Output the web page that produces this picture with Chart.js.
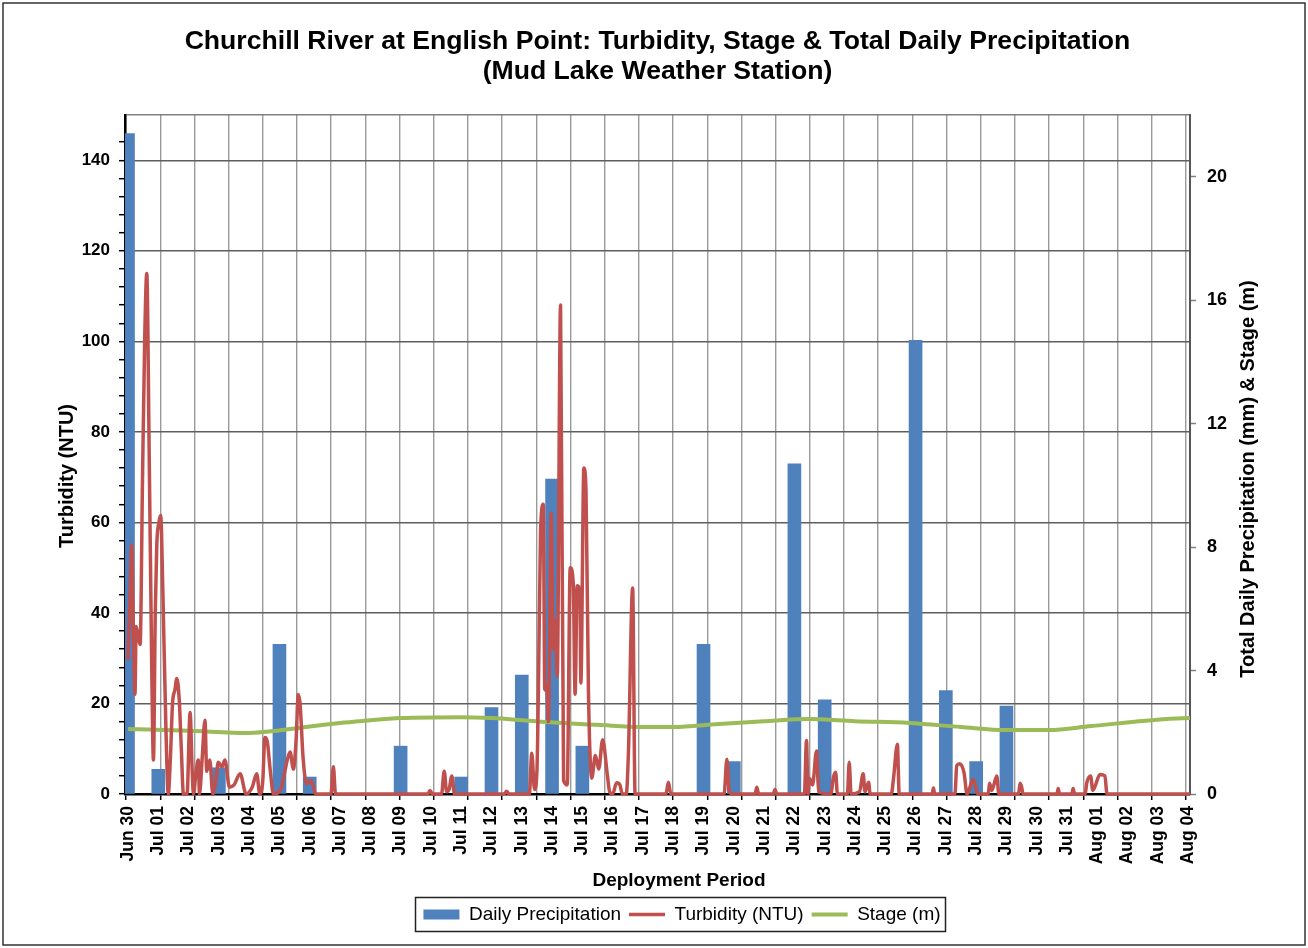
<!DOCTYPE html>
<html>
<head>
<meta charset="utf-8">
<script src="https://cdn.jsdelivr.net/npm/chart.js@4.4.1/dist/chart.umd.min.js"></script>
<style>
html,body{margin:0;padding:0;background:#fff;}
canvas{display:block;}
</style>
</head>
<body>
<canvas id="c" width="1308" height="948"></canvas>
<script>
// ---- tick labels (one per day, Jun 30 = day 0) ----
const dayLabels = ['Jun 30','Jul 01','Jul 02','Jul 03','Jul 04','Jul 05','Jul 06','Jul 07','Jul 08','Jul 09',
  'Jul 10','Jul 11','Jul 12','Jul 13','Jul 14','Jul 15','Jul 16','Jul 17','Jul 18','Jul 19','Jul 20',
  'Jul 21','Jul 22','Jul 23','Jul 24','Jul 25','Jul 26','Jul 27','Jul 28','Jul 29','Jul 30','Jul 31',
  'Aug 01','Aug 02','Aug 03','Aug 04'];

// ---- Daily precipitation (mm), right axis ----
const precipDays = [0, 1, 3, 5, 6, 9, 11, 12, 13, 14, 15, 19, 20, 22, 23, 26, 27, 28, 29];
const precipMM   = [21.4, 0.8, 0.85, 4.85, 0.55, 1.55, 0.55, 2.8, 3.85, 10.2, 1.55, 4.85, 1.05, 10.7, 3.05, 14.7, 3.35, 1.05, 2.85];

// ---- Turbidity (NTU), left axis; time in days since Jun 30 ----
const turbDaysEarly = [0, 0.06, 0.12, 0.18, 0.23, 0.27, 0.33, 0.40, 0.48, 0.55, 0.62, 0.70, 0.78, 0.84, 0.90, 0.95, 1.02, 1.08, 1.15, 1.25,
  1.33, 1.40, 1.47, 1.55, 1.61, 1.69, 1.76, 1.83, 1.95, 2.05, 2.12, 2.16, 2.25, 2.32, 2.36, 2.45, 2.54, 2.60, 2.70, 2.80,
  2.90, 2.98, 3.10, 3.20, 3.35, 3.50, 3.70, 3.90, 4.10, 4.25, 4.35, 4.45, 4.52, 4.60, 4.70, 4.80, 5.02, 5.15, 5.24, 5.35,
  5.46, 5.55, 5.62, 5.68, 5.78, 5.90, 6.05, 6.20, 6.70, 6.78, 6.85];
const turbNTUEarly  = [30, 42, 55, 35, 22, 37, 35, 33, 70, 100, 115, 75, 30, 7.5, 40, 55, 60, 61.5, 45, 15,
  0, 8, 20, 23, 25.5, 21, 10, 0, 0, 18, 5, 0, 5, 7.5, 0, 8, 16.3, 5, 7.5, 0,
  3, 7, 6, 7.5, 1.5, 2, 4.5, 0, 1.5, 4.5, 0, 3, 12.5, 11.5, 5, 0, 0.7, 4, 7, 9.3,
  5.5, 12, 22, 20, 8, 2.2, 3, 0, 0, 6, 0];

const turbDaysMid = [9.90, 9.97, 10.05, 10.35, 10.44, 10.52, 10.60, 10.69, 10.78, 12.42, 12.50, 12.58, 13.25, 13.33, 13.42, 13.50, 13.55, 13.62, 13.71, 13.76,
  13.82, 13.88, 13.97, 14.04, 14.10, 14.17, 14.28, 14.38, 14.50, 14.60, 14.70, 14.76, 14.83, 14.92, 14.95, 15.05, 15.12, 15.20, 15.31, 15.43,
  15.54, 15.67, 15.82, 15.90, 16.00, 16.13, 16.24, 16.32, 16.45, 16.52, 16.66, 16.74];
const turbNTUMid  = [0, 0.8, 0, 0, 5, 0.5, 1, 4, 0, 0, 0.6, 0, 0, 9, 1, 5, 23.5, 58, 64, 23,
  24, 16, 62, 32, 38.5, 26, 108, 3, 2, 50, 46.5, 22, 46, 44.5, 24.5, 72, 67, 23, 3.5, 8.5,
  5.5, 12, 4.5, 0.5, 0, 2.5, 2, 0, 0, 9, 45.5, 0];

const turbDaysLate = [17.76, 17.84, 17.92, 19.68, 19.77, 19.85, 19.95, 20.70, 20.76, 20.82, 21.30, 21.36, 21.42, 22.33, 22.40, 22.45, 22.50, 22.60, 22.73, 22.80,
  23.20, 23.29, 23.36, 23.42, 23.75, 23.81, 23.87, 24.15, 24.27, 24.33, 24.45, 24.50, 25.20, 25.27, 25.40, 25.46, 26.55, 26.59, 26.63, 27.30,
  27.36, 27.46, 27.60, 27.70, 27.90, 27.97, 28.05, 28.40, 28.44, 28.52, 28.68, 28.75, 29.40, 29.45, 29.50, 29.55, 30.67, 30.71, 30.75, 31.16,
  31.20, 31.25, 31.60, 31.65, 31.78, 31.85, 32.09, 32.25, 32.32, 35.06];
const turbNTULate  = [0, 2.6, 0, 0, 7.7, 0.7, 0, 0, 1.5, 0, 0, 1, 0, 0, 11.8, 0, 3.4, 2, 9.5, 0.5,
  0, 3.7, 4.8, 0, 0, 7, 0, 0.5, 4.5, 0.5, 2.6, 0, 0, 3.3, 11, 0, 0, 1.3, 0, 0,
  6.3, 6.7, 4.7, 0, 3.2, 2, 0, 0, 2.4, 0.8, 4, 0, 0, 2.4, 1.6, 0, 0, 1.2, 0, 0,
  1.2, 0, 0, 2.4, 4, 0.8, 4.3, 4, 0, 0];

// ---- Stage (m), right axis ----
const stageDays = [0, 2, 4, 5, 5.7, 7, 7.8, 9, 11, 12, 13.8, 15.5, 17, 18, 19.5, 21, 22.5, 24, 25.8, 27.5, 29, 30.4, 31.8, 34.3, 35.06];
const stageM    = [2.11, 2.05, 1.98, 2.06, 2.15, 2.3, 2.37, 2.46, 2.49, 2.46, 2.33, 2.24, 2.17, 2.17, 2.27, 2.36, 2.43, 2.36, 2.30, 2.17, 2.07, 2.07, 2.2, 2.43, 2.46];

const FONT = '"Liberation Sans", Arial, Helvetica, sans-serif';
Chart.defaults.font.family = FONT;
Chart.defaults.color = '#000';

const toXY = (xs, ys) => xs.map((x, i) => ({x: x, y: ys[i]}));
const turbDays = turbDaysEarly.concat(turbDaysMid, turbDaysLate);
const turbNTU = turbNTUEarly.concat(turbNTUMid, turbNTULate);

const decor = {
  id: 'decor',
  afterDraw(chart) {
    const ctx = chart.ctx;
    ctx.save();
    ctx.fillStyle = '#000';
    ctx.textAlign = 'center';
    ctx.textBaseline = 'middle';
    ctx.font = 'bold 20px ' + FONT;
    ctx.save(); ctx.translate(67, 476); ctx.rotate(-Math.PI / 2); ctx.fillText('Turbidity (NTU)', 0, 0); ctx.restore();
    ctx.save(); ctx.translate(1248, 479); ctx.rotate(-Math.PI / 2); ctx.fillText('Total Daily Precipitation (mm) & Stage (m)', 0, 0); ctx.restore();
    ctx.font = 'bold 19px ' + FONT;
    ctx.fillText('Deployment Period', 679, 881);
    // legend frame
    const hb = chart.legend && chart.legend.legendHitBoxes;
    if (hb && hb.length) {
      const first = hb[0], last = hb[hb.length - 1];
      const l = first.left - 8, r = last.left + last.width + 5;
      const t = first.top - 8, b = first.top + first.height + 7;
      ctx.strokeStyle = '#222';
      ctx.lineWidth = 1.5;
      ctx.strokeRect(Math.round(l) + 0.5, Math.round(t) + 0.5, Math.round(r - l), Math.round(b - t));
    }
    // outer frame
    ctx.strokeStyle = '#333';
    ctx.lineWidth = 1.5;
    ctx.strokeRect(3, 3, 1302, 942);
    ctx.restore();
  }
};

new Chart(document.getElementById('c'), {
  type: 'bar',
  data: {
    datasets: [
      {
        type: 'bar', label: 'Daily Precipitation',
        data: toXY(precipDays, precipMM),
        backgroundColor: '#4F81BD', borderWidth: 0, barThickness: 13, grouped: false,
        xAxisID: 'x', yAxisID: 'y1', order: 3
      },
      {
        type: 'line', label: 'Turbidity (NTU)',
        data: toXY(turbDays, turbNTU),
        borderColor: '#C0504D', backgroundColor: '#C0504D', borderWidth: 3.5,
        pointRadius: 0, cubicInterpolationMode: 'monotone', fill: false,
        borderJoinStyle: 'round', borderCapStyle: 'round',
        clip: { left: 0, top: 4, right: 0, bottom: 4 },
        xAxisID: 'x', yAxisID: 'y', order: 1
      },
      {
        type: 'line', label: 'Stage (m)',
        data: toXY(stageDays, stageM),
        borderColor: '#9BBB59', backgroundColor: '#9BBB59', borderWidth: 4,
        pointRadius: 0, cubicInterpolationMode: 'monotone', fill: false,
        xAxisID: 'x', yAxisID: 'y1', order: 2
      }
    ]
  },
  options: {
    responsive: false,
    animation: false,
    devicePixelRatio: 1,
    layout: { padding: { left: 56, right: 0, top: 0, bottom: 14 } },
    plugins: {
      title: {
        display: true, fullSize: false,
        text: ['Churchill River at English Point: Turbidity, Stage & Total Daily Precipitation', '(Mud Lake Weather Station)'],
        color: '#000',
        font: { family: FONT, size: 26.6, weight: 'bold', lineHeight: '30px' },
        padding: { top: 27, bottom: 28 }
      },
      legend: {
        position: 'bottom',
        labels: {
          usePointStyle: true, pointStyleWidth: 36, boxWidth: 36, boxHeight: 10, padding: 8,
          color: '#000', font: { family: FONT, size: 19 },
          sort: (a, b) => a.datasetIndex - b.datasetIndex,
          generateLabels(chart) {
            const items = Chart.defaults.plugins.legend.labels.generateLabels(chart);
            items.forEach(it => { it.pointStyle = it.datasetIndex === 0 ? 'rect' : 'line'; });
            return items;
          }
        }
      },
      tooltip: { enabled: false }
    },
    scales: {
      x2: {
        type: 'linear', position: 'bottom', weight: -1,
        min: -0.03, max: 31.12, offset: false,
        ticks: { display: false, stepSize: 1, includeBounds: false, autoSkip: false },
        grid: { color: '#9a9a9a', lineWidth: 1.4, tickLength: 6, tickColor: '#000', tickWidth: 1.5, offset: false },
        border: { display: true, color: '#000', width: 2.5 },
        afterFit(s) { s.height = 6; }
      },
      x: {
        type: 'linear', position: 'bottom', weight: 0,
        min: -0.099, max: 35.06, offset: false,
        ticks: {
          stepSize: 1, includeBounds: false, autoSkip: false,
          minRotation: 90, maxRotation: 90, padding: 6, color: '#000',
          font: { family: FONT, size: 17.5, weight: 'bold' },
          callback: (v) => dayLabels[Math.round(v)] || ''
        },
        grid: { display: false, drawTicks: false, offset: false },
        border: { display: false },
        afterFit(s) { s.height = 97; }
      },
      y: {
        type: 'linear', position: 'left', min: 0, max: 150,
        ticks: {
          stepSize: 4, autoSkip: false, padding: 9, color: '#000',
          font: { family: FONT, size: 17, weight: 'bold' },
          callback: (v) => (v % 20 === 0 ? String(v) : '')
        },
        grid: {
          color: (c) => (c.tick && c.tick.value === 150) ? '#808080' : ((c.tick && c.tick.value % 20 === 0 && c.tick.value > 0) ? '#5e5e5e' : 'rgba(0,0,0,0)'),
          lineWidth: 1.4, tickLength: 6, tickWidth: 1.5,
          tickColor: (c) => (c.tick && c.tick.value === 150) ? 'rgba(0,0,0,0)' : '#000'
        },
        border: { color: '#000', width: 2.5 },
        afterFit(s) { s.width = 69; }
      },
      y1: {
        type: 'linear', position: 'right', min: 0, max: 22,
        ticks: {
          stepSize: 4, includeBounds: false, autoSkip: false, padding: 11, color: '#000',
          font: { family: FONT, size: 18, weight: 'bold' }
        },
        grid: { drawOnChartArea: false, tickLength: 6, tickColor: '#808080', tickWidth: 1.5 },
        border: { color: '#555', width: 2 },
        afterFit(s) { s.width = 118; }
      }
    }
  },
  plugins: [decor]
});
</script>
</body>
</html>
